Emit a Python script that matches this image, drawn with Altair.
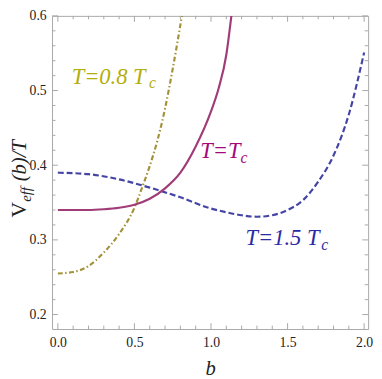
import altair as alt
import pandas as pd

# ---- data ----
b_08 = [0.0, 0.1, 0.2, 0.3, 0.4, 0.5, 0.55, 0.6, 0.65, 0.7, 0.75, 0.81]
v_08 = [0.255, 0.257, 0.265, 0.283, 0.308, 0.343, 0.370, 0.399, 0.433, 0.476, 0.529, 0.600]

b_10 = [0.0, 0.1, 0.2, 0.3, 0.4, 0.5, 0.6, 0.7, 0.8, 0.9, 1.0, 1.05, 1.1, 1.133]
v_10 = [0.340, 0.340, 0.340, 0.341, 0.343, 0.347, 0.355, 0.369, 0.390, 0.425, 0.472, 0.503, 0.548, 0.600]

b_15 = [0.0, 0.2, 0.4, 0.6, 0.8, 1.0, 1.1, 1.2, 1.3, 1.4, 1.5, 1.6, 1.7, 1.8, 1.9, 2.0]
v_15 = [0.390, 0.388, 0.381, 0.370, 0.357, 0.342, 0.337, 0.333, 0.331, 0.333, 0.340, 0.353, 0.378, 0.413, 0.468, 0.551]

x_major = [0.0, 0.5, 1.0, 1.5, 2.0]
x_minor = [0.1, 0.2, 0.3, 0.4, 0.6, 0.7, 0.8, 0.9, 1.1, 1.2, 1.3, 1.4, 1.6, 1.7, 1.8, 1.9]
y_major = [0.2, 0.3, 0.4, 0.5, 0.6]
y_minor = [0.22, 0.24, 0.26, 0.28, 0.32, 0.34, 0.36, 0.38, 0.42, 0.44, 0.46, 0.48, 0.52, 0.54, 0.56, 0.58]

label_main = ["T=0.8 T", "T=T", "T=1.5 T"]
label_b = [0.09, 0.93, 1.225]
label_v = [0.509, 0.410, 0.293]
sub_b = [0.595, 1.192, 1.72]
sub_v = [0.503, 0.403, 0.287]
label_colors = ["#b3ae0c", "#a3087c", "#2b2ba3"]

W, H = 323, 320
FONT = "Liberation Serif"
FRAME = "#a8a8a8"

xs = alt.Scale(domain=[-0.038, 2.026], nice=False, zero=False)
ys = alt.Scale(domain=[0.1806, 0.6], nice=False, zero=False)

xaxis = alt.Axis(
    values=x_major, format=".1f", tickSize=0, domain=False, grid=False,
    labelFont=FONT, labelFontSize=14, labelColor="#222", labelPadding=7,
    title="b", titleFont=FONT, titleFontStyle="italic", titleFontWeight="normal",
    titleFontSize=21, titleColor="#222", titlePadding=8)
yaxis = alt.Axis(
    values=y_major, format=".1f", tickSize=0, domain=False, grid=False,
    labelFont=FONT, labelFontSize=14, labelColor="#222", labelPadding=6, title=None)

X = alt.X("b:Q", scale=xs, axis=xaxis, title="b")
Y = alt.Y("v:Q", scale=ys, axis=yaxis, title=None)


def line_layer(bs, vs, color, dash):
    df = pd.DataFrame({"b": bs, "v": vs})
    kw = dict(color=color, strokeWidth=2.2, clip=True, interpolate="monotone")
    if dash:
        kw["strokeDash"] = dash
    return alt.Chart(df).mark_line(**kw).encode(x=X, y=Y)


l15 = line_layer(b_15, v_15, "#4444a6", [6, 3])
l08 = line_layer(b_08, v_08, "#a39238", [5, 2.5, 1.5, 2.5])
l10 = line_layer(b_10, v_10, "#a03c78", None)


def ticks():
    layers = []
    for sub, L in [(x_major, 6), (x_minor, 3.5)]:
        d = pd.DataFrame({"b": sub})
        layers.append(alt.Chart(d).mark_rule(color=FRAME, strokeWidth=1).encode(
            x=X, y=alt.value(H), y2=alt.value(H - L)))
        layers.append(alt.Chart(d).mark_rule(color=FRAME, strokeWidth=1).encode(
            x=X, y=alt.value(0), y2=alt.value(L)))
    for sub, L in [(y_major, 6), (y_minor, 3.5)]:
        d = pd.DataFrame({"v": sub})
        layers.append(alt.Chart(d).mark_rule(color=FRAME, strokeWidth=1).encode(
            y=Y, x=alt.value(0), x2=alt.value(L)))
        layers.append(alt.Chart(d).mark_rule(color=FRAME, strokeWidth=1).encode(
            y=Y, x=alt.value(W - L), x2=alt.value(W)))
    return layers


# curve labels
lab_df = pd.DataFrame({"t": label_main, "b": label_b, "v": label_v, "c": label_colors})
sub_df = pd.DataFrame({"t": ["c", "c", "c"], "b": sub_b, "v": sub_v, "c": label_colors})
labels = alt.Chart(lab_df).mark_text(
    font=FONT, fontStyle="italic", fontSize=23, align="left", baseline="alphabetic"
).encode(x=X, y=Y, text="t:N", color=alt.Color("c:N", scale=None))
subs = alt.Chart(sub_df).mark_text(
    font=FONT, fontStyle="italic", fontSize=16, align="left", baseline="alphabetic"
).encode(x=X, y=Y, text="t:N", color=alt.Color("c:N", scale=None))

# y-axis title built from pieces (V_eff (b)/T)
yt_df = pd.DataFrame({"t": ["x"]})
yV = alt.Chart(yt_df).mark_text(text="V", font=FONT, fontSize=22, angle=270,
                                align="left", baseline="alphabetic", color="#222").encode(
    x=alt.value(-27), y=alt.value(206))
yEff = alt.Chart(yt_df).mark_text(text="eff", font=FONT, fontStyle="italic", fontSize=15, angle=270,
                                  align="left", baseline="alphabetic", color="#222").encode(
    x=alt.value(-22), y=alt.value(190))
yRest = alt.Chart(yt_df).mark_text(text="(b)/T", font=FONT, fontStyle="italic", fontSize=21, angle=270,
                                   align="left", baseline="alphabetic", color="#222").encode(
    x=alt.value(-27), y=alt.value(169))

chart = alt.layer(l15, l08, l10, *ticks(), labels, subs, yV, yEff, yRest).properties(
    width=W, height=H, autosize="none", background="white",
    padding={"left": 45, "top": 4, "right": 6, "bottom": 47},
).configure_view(stroke=FRAME, strokeWidth=1)

chart.save("out.html", embed_options={"renderer": "svg", "actions": False})
